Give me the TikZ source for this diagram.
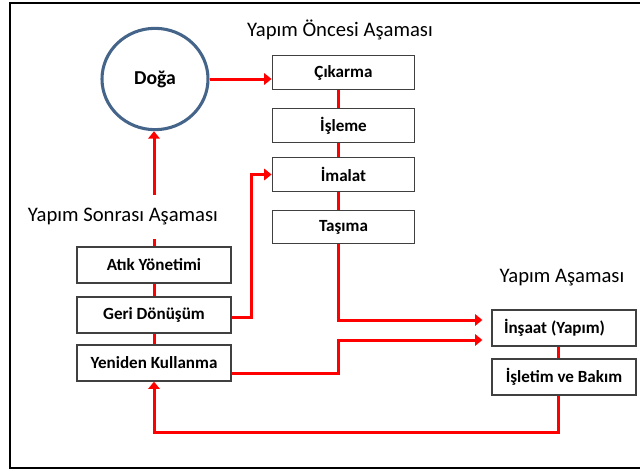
\documentclass[tikz,border=0pt]{standalone}
\usepackage{fontspec}
\setmainfont{Carlito}
\usetikzlibrary{arrows.meta,shapes.geometric,positioning}
\definecolor{dogablue}{RGB}{68,100,138}

\begin{document}
\begin{tikzpicture}
 [
  x=0.75pt, y=-0.75pt,
  box/.style={draw=black!75, line width=0.9pt, fill=white, inner sep=0pt,
              minimum height=25pt, font=\fontsize{12.8}{15}\selectfont\bfseries},
  prebox/.style={box, minimum width=107pt},
  postbox/.style={box, minimum width=115.5pt, minimum height=27pt},
  buildbox/.style={box, minimum width=108pt, minimum height=27pt},
  title/.style={font=\fontsize{15.5}{18}\selectfont},
  flow/.style={draw=red, line width=2.25pt},
  arrow/.style={flow, -{Triangle[length=5.5pt,width=8.5pt]}},
 ]
  \useasboundingbox (0,0) rectangle (640,471);
  \draw [line width=2pt] (650,3) -- (10,3) -- (10,468) -- (650,468);

  % pre-construction
  \node [title] (oncesi) at (340,30) {Yapım Öncesi Aşaması};
  \node [ellipse, draw=dogablue, line width=2.3pt, minimum width=79.5pt, minimum height=76pt,
         font=\fontsize{14.8}{17}\selectfont\bfseries] (doga) at (155,79) {Doğa};
  \node [prebox] (cikarma) at (343.5,72.5) {Çıkarma};
  \node [prebox] (isleme) at (343.5,125.5) {İşleme};
  \node [prebox] (imalat) at (343.5,174.5) {İmalat};
  \node [prebox] (tasima) at (343.5,227) {Taşıma};

  % construction
  \node [title] (yapim) at (562,278) {Yapım Aşaması};
  \node [buildbox, text width=90pt, inner xsep=9pt, align=flush left] (insaat) at (564,328) {İnşaat (Yapım)};
  \node [buildbox] (isletim) at (564,377) {İşletim ve Bakım};

  % post-construction
  \node [postbox] (atik) at (154,265) {Atık Yönetimi};
  \node [postbox] (geri) at (154,315) {Geri Dönüşüm};
  \node [postbox] (yeniden) at (154,363) {Yeniden Kullanma};
  \coordinate (kink) at (338,340);

  \draw [arrow] (doga.east) -- (doga.east -| cikarma.west);
  \draw [flow] ([xshift=-4pt]cikarma.south) -- ([xshift=-4pt]isleme.north);
  \draw [flow] ([xshift=-4pt]isleme.south) -- ([xshift=-4pt]imalat.north);
  \draw [flow] ([xshift=-4pt]imalat.south) -- ([xshift=-4pt]tasima.north);
  \draw [arrow, shorten >=6.75pt] ([xshift=-4pt]tasima.south) |- ([yshift=6pt]insaat.west);
  \draw [arrow, shorten >=6.75pt] ([yshift=-7.5pt]yeniden.east) -| (kink) -- ([yshift=-9pt]insaat.west);
  \draw [arrow] ([yshift=-2pt]geri.east) -- ++(20,0) |- (imalat.west);
  \draw [flow] ([xshift=-4pt]insaat.south) -- ([xshift=-4pt]isletim.north);
  \draw [arrow] ([xshift=-4pt]isletim.south) -- ++(0,37) -| (yeniden.south);
  \draw [flow] (atik.south) -- (geri.north);
  \draw [flow] (geri.south) -- (yeniden.north);
  \draw [arrow] (atik.north) -- (atik.north |- doga.south);

  \node [title, fill=white, minimum height=33pt] (sonrasi) at (123,217) {Yapım Sonrası Aşaması};
\end{tikzpicture}
\end{document}
